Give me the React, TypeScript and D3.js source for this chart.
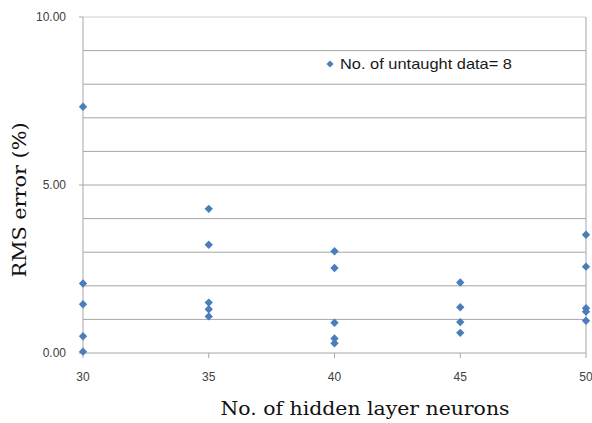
import React from "react";
import * as d3 from "d3";

const neurons = [30, 35, 40, 45, 50];
const rmsValues: number[][] = [
  [7.33, 2.07, 1.45, 0.5, 0.04],
  [4.29, 3.22, 1.5, 1.3, 1.09],
  [3.03, 2.53, 0.9, 0.43, 0.29],
  [2.1, 1.36, 0.92, 0.6],
  [3.52, 2.57, 1.33, 1.23, 0.96],
];
const yTickLabels = [0, 5, 10];
const gridValues = [1, 2, 3, 4, 5, 6, 7, 8, 9, 10];
const legendLabel = "No. of untaught data= 8";

export default function App() {
  const W = 592, H = 423;
  const x = d3.scaleLinear().domain([30, 50]).range([83, 586]);
  const y = d3.scaleLinear().domain([0, 10]).range([353, 17]);
  const diamond = (cx: number, cy: number, r: number) =>
    `M${cx},${cy - r}L${cx + r},${cy}L${cx},${cy + r}L${cx - r},${cy}Z`;
  const pts = neurons.flatMap((n, i) => rmsValues[i].map((v) => ({ n, v })));
  return (
    <svg width={W} height={H} style={{ position: "absolute", left: 0, top: 0, background: "#fff" }}>
      {gridValues.map((g) => (
        <line key={g} x1={x(30)} x2={x(50)} y1={y(g)} y2={y(g)} stroke={g === 10 ? "#d0d0d0" : "#a6a6a6"} strokeWidth={1} />
      ))}
      <line x1={x(30)} x2={x(50)} y1={y(0)} y2={y(0)} stroke="#a6a6a6" />
      <line x1={x(30)} x2={x(30)} y1={y(10)} y2={y(0)} stroke="#a6a6a6" />
      <line x1={x(50)} x2={x(50)} y1={y(10)} y2={y(0)} stroke="#a6a6a6" />
      {yTickLabels.map((t) => (
        <g key={t}>
          <line x1={x(30) - 4} x2={x(30)} y1={y(t)} y2={y(t)} stroke="#a6a6a6" />
          <text x={66} y={y(t)} dy="0.35em" textAnchor="end" fontFamily="Liberation Sans, Arial" fontSize={12} fill="#404040">
            {d3.format(".2f")(t)}
          </text>
        </g>
      ))}
      {neurons.map((n) => (
        <g key={n}>
          <line x1={x(n)} x2={x(n)} y1={y(0)} y2={y(0) + 5} stroke="#a6a6a6" />
          <text x={x(n)} y={377} dy="0.35em" textAnchor="middle" fontFamily="Liberation Sans, Arial" fontSize={12} fill="#404040">
            {n}
          </text>
        </g>
      ))}
      {pts.map((p, i) => (
        <path key={i} d={diamond(x(p.n), y(p.v), 4.2)} fill="#4a7ebb" />
      ))}
      <path d={diamond(330, 64, 3.5)} fill="#4a7ebb" />
      <text x={340} y={64} dy="0.35em" fontFamily="Liberation Sans, Arial" fontSize={15} fill="#1a1a1a" textLength={172} lengthAdjust="spacingAndGlyphs">
        {legendLabel}
      </text>
      <text transform={`translate(26,${200}) rotate(-90)`} textAnchor="middle" fontFamily="DejaVu Serif, serif" fontSize={18} fill="#111" textLength={155} lengthAdjust="spacingAndGlyphs">
        RMS error (%)
      </text>
      <text x={365} y={415} textAnchor="middle" fontFamily="DejaVu Serif, serif" fontSize={18} fill="#111" textLength={289} lengthAdjust="spacingAndGlyphs">
        No. of hidden layer neurons
      </text>
    </svg>
  );
}
